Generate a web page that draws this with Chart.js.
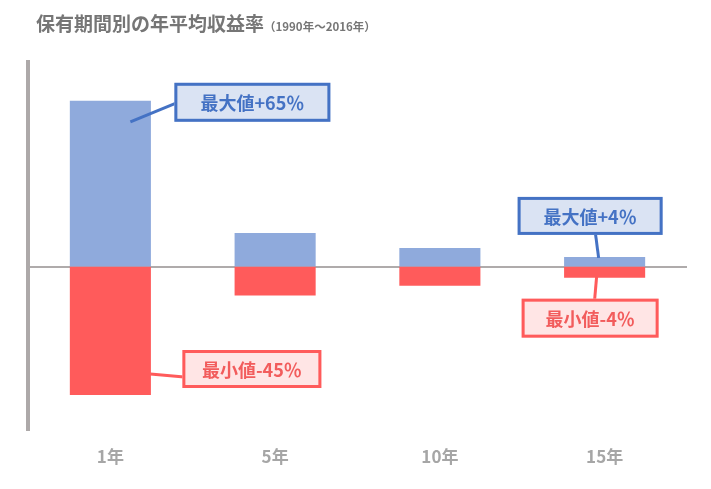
<!DOCTYPE html>
<html><head><meta charset="utf-8">
<script src="https://cdn.jsdelivr.net/npm/chart.js@4"></script>
<style>
html,body{margin:0;padding:0;background:#fff;}
#wrap{position:relative;width:711px;height:489px;}
#title{position:absolute;left:36px;top:9px;font-family:"Noto Sans CJK JP","Noto Sans",sans-serif;font-weight:bold;color:#767676;font-size:19px;white-space:nowrap;line-height:28px;}
#title small{font-size:11.5px;}
</style></head>
<body><div id="wrap"><canvas id="c" width="711" height="489"></canvas><div id="title">保有期間別の年平均収益率<small>（1990年～2016年）</small></div></div>
<script>
const categories = ['1年', '5年', '10年', '15年'];
const maxReturns = [65, 12.8, 6.9, 3.4];
const minReturns = [-50.3, -11, -7.2, -4];
const calloutTexts = ['最大値+65％', '最小値-45％', '最大値+4％', '最小値-4％'];

const BLUE = '#8FAADC', RED = '#FF5B5B';
const callouts = [
  {i:0, v:maxReturns[0], text:calloutTexts[0], kind:'max', s:[20,20], e:[76,-3], box:[64,-19,156,39]},
  {i:0, v:minReturns[0], text:calloutTexts[1], kind:'min', s:[40,-20], e:[85,-16], box:[72,-44,139,38]},
  {i:3, v:maxReturns[3], text:calloutTexts[2], kind:'max', s:[-6,0], e:[-9,-23], box:[-87,-61,145,38]},
  {i:3, v:minReturns[3], text:calloutTexts[3], kind:'min', s:[-8,0], e:[-10,23], box:[-83,22,137,39]}
];
const styles = {
  max:{stroke:'#4472C4', fill:'#DAE3F3', text:'#4472C4'},
  min:{stroke:'#FF5B5B', fill:'#FFE5E5', text:'#F25C5C'}
};

const calloutPlugin = {
  id:'callouts',
  afterDatasetsDraw(chart){
    const ctx = chart.ctx, xs = chart.scales.x, ys = chart.scales.y;
    ctx.save();
    callouts.forEach(c=>{
      const st = styles[c.kind];
      const cx = xs.getPixelForValue(c.i), vy = ys.getPixelForValue(c.v);
      ctx.strokeStyle = st.stroke; ctx.lineWidth = 3;
      ctx.beginPath();
      ctx.moveTo(cx+c.s[0], vy+c.s[1]);
      ctx.lineTo(cx+c.e[0], vy+c.e[1]);
      ctx.stroke();
      const [bx,by,bw,bh] = c.box;
      const x = cx+bx, y = vy+by;
      ctx.fillStyle = st.fill;
      ctx.fillRect(x, y, bw, bh);
      ctx.strokeRect(x+1.5, y+1.5, bw-3, bh-3);
      ctx.fillStyle = st.text;
      ctx.font = 'bold 18px "Noto Sans CJK JP", "Noto Sans", sans-serif';
      ctx.textAlign = 'center'; ctx.textBaseline = 'middle';
      ctx.fillText(c.text, x+bw/2, y+bh/2+1);
    });
    ctx.restore();
  }
};

new Chart(document.getElementById('c'), {
  type:'bar',
  data:{
    labels:categories,
    datasets:[
      {label:'最大値', data:maxReturns, backgroundColor:BLUE, barPercentage:0.96, categoryPercentage:0.5, inflateAmount:1},
      {label:'最小値', data:minReturns, backgroundColor:RED, barPercentage:0.96, categoryPercentage:0.5, inflateAmount:1}
    ]
  },
  options:{
    responsive:false, animation:false,
    layout:{padding:{left:28, top:62, right:24, bottom:0}},
    plugins:{legend:{display:false}, tooltip:{enabled:false}, title:{display:false}},
    scales:{
      x:{stacked:true,
         grid:{display:false, drawTicks:false},
         border:{display:false},
         ticks:{color:'#A6A6A6', font:{family:'"Noto Sans CJK JP", "Noto Sans", sans-serif', size:17, weight:'bold'}, padding:16},
         afterFit(s){ s.height = 59; }
      },
      y:{stacked:true, min:-64.5, max:80.7,
         ticks:{display:false, stepSize:10},
         grid:{drawTicks:false, lineWidth:2, color:(c)=> (c.tick && c.tick.value===0) ? '#AFABAB' : 'rgba(0,0,0,0)'},
         border:{display:true, color:'#ADA9A9', width:4},
         afterFit(s){ s.width = 0; }
      }
    }
  },
  plugins:[calloutPlugin]
});
</script>
</body></html>
